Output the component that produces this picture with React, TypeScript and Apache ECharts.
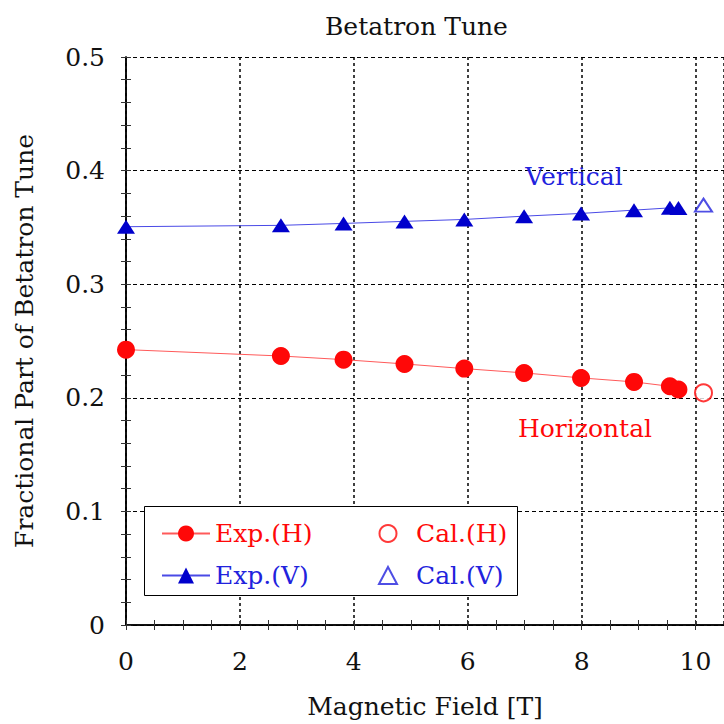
import React, { useEffect, useRef } from "react";
import * as echarts from "echarts";

const fieldExp = [0, 2.72, 3.82, 4.89, 5.94, 6.99, 7.99, 8.92, 9.55, 9.7];
const tuneExpH = [0.2424, 0.2368, 0.2336, 0.2298, 0.2257, 0.2219, 0.2175, 0.214, 0.2101, 0.2073];
const tuneExpV = [0.3506, 0.3518, 0.3535, 0.3553, 0.357, 0.3599, 0.3623, 0.3652, 0.3672, 0.367];
const fieldCal = [10.14];
const tuneCalH = [0.2044];
const tuneCalV = [0.3696];
const xTicks = [0, 2, 4, 6, 8, 10];
const yTicks = [0, 0.1, 0.2, 0.3, 0.4, 0.5];

const FONT = "'DejaVu Serif', 'Liberation Serif', serif";
const FS = 25;
const RED = "#ff0808";
const BLUE = "#0000cc";
const TBLUE = "#2222dd";

const zip = (xs: number[], ys: number[]) => xs.map((x, i) => [x, ys[i]]);

export default function App() {
  const ref = useRef<HTMLDivElement>(null);
  useEffect(() => {
    if (!ref.current) return;
    const chart = echarts.init(ref.current, undefined, { renderer: "svg" });
    const gridDotted = { show: true, lineStyle: { color: "#000", type: [3, 3] as any, width: 1.5 } };
    const tickAxisCommon = {
      axisLabel: { show: false },
      axisLine: { show: false },
      splitLine: { show: false },
      axisTick: { show: true, inside: true, length: 5, lineStyle: { color: "#333", width: 1 } },
    };
    chart.setOption({
      animation: false,
      backgroundColor: "#fff",
      title: {
        text: "Betatron Tune",
        left: 320,
        top: 9,
        textStyle: { fontFamily: FONT, fontSize: FS, fontWeight: "normal", color: "#111" },
      },
      grid: { left: 126, top: 57, width: 599, height: 571, containLabel: false },
      xAxis: [
        {
          type: "value",
          position: "bottom",
          min: 0,
          max: 10.5,
          interval: 2,
          name: "Magnetic Field [T]",
          nameLocation: "middle",
          nameGap: 69,
          nameTextStyle: { fontFamily: FONT, fontSize: FS, color: "#111" },
          axisLine: { show: true, lineStyle: { color: "#000", width: 1.5 } },
          axisTick: { show: false },
          axisLabel: {
            margin: 24,
            fontFamily: FONT,
            fontSize: FS,
            color: "#111",
            showMaxLabel: false,
            formatter: (v: number) => (xTicks.includes(v) ? String(v) : ""),
          },
          splitLine: gridDotted,
        },
        { type: "value", position: "bottom", min: 0, max: 10.5, interval: 0.5, ...tickAxisCommon },
        {
          type: "value",
          position: "top",
          min: 0,
          max: 10.5,
          interval: 0.5,
          ...tickAxisCommon,
          axisLine: { show: true, lineStyle: { color: "#000", width: 1.5 } },
        },
      ],
      yAxis: [
        {
          type: "value",
          position: "left",
          min: 0,
          max: 0.5,
          interval: 0.1,
          name: "Fractional Part of Betatron Tune",
          nameLocation: "middle",
          nameGap: 89,
          nameTextStyle: { fontFamily: FONT, fontSize: FS, color: "#111" },
          axisLine: { show: true, lineStyle: { color: "#000", width: 1.5 } },
          axisTick: { show: false },
          axisLabel: {
            margin: 21,
            fontFamily: FONT,
            fontSize: FS,
            color: "#111",
            formatter: (v: number) => {
              const t = yTicks.find((y) => Math.abs(y - v) < 1e-9);
              return t === undefined ? "" : t === 0 ? "0" : t.toFixed(1);
            },
          },
          splitLine: { show: true, lineStyle: { color: "#000", type: [4, 3] as any, width: 1.2 } },
        },
        { type: "value", position: "left", min: 0, max: 0.5, interval: 0.02, ...tickAxisCommon },
        {
          type: "value",
          position: "right",
          min: 0,
          max: 0.5,
          interval: 0.02,
          ...tickAxisCommon,
          axisLine: { show: true, lineStyle: { color: "#000", width: 1.5 } },
        },
      ],
      legend: [
        {
          orient: "vertical",
          left: 156,
          top: 516,
          itemWidth: 48,
          itemHeight: 20,
          itemGap: 17,
          z: 10,
          textStyle: { fontFamily: FONT, fontSize: FS },
          data: [
            { name: "Exp.(H)", textStyle: { color: RED } },
            { name: "Exp.(V)", textStyle: { color: TBLUE } },
          ],
        },
        {
          orient: "vertical",
          left: 373,
          top: 516,
          itemWidth: 18,
          itemHeight: 17,
          itemGap: 17,
          z: 10,
          textStyle: { fontFamily: FONT, fontSize: FS, padding: [0, 0, 0, 14] },
          data: [
            { name: "Cal.(H)", textStyle: { color: RED } },
            { name: "Cal.(V)", textStyle: { color: TBLUE } },
          ],
        },
      ],
      graphic: [
        {
          type: "rect",
          z: 8,
          shape: { x: 144.5, y: 506.5, width: 373, height: 89 },
          style: { fill: "#fff", stroke: "#000", lineWidth: 1 },
        },
        {
          type: "text",
          z: 9,
          x: 574,
          y: 176,
          style: {
            text: "Vertical",
            fill: TBLUE,
            font: `${FS}px ${FONT}`,
            textAlign: "center",
            textVerticalAlign: "middle",
          },
        },
        {
          type: "text",
          z: 9,
          x: 585,
          y: 428,
          style: {
            text: "Horizontal",
            fill: RED,
            font: `${FS}px ${FONT}`,
            textAlign: "center",
            textVerticalAlign: "middle",
          },
        },
      ],
      series: [
        {
          name: "Exp.(H)",
          type: "line",
          xAxisIndex: 0,
          yAxisIndex: 0,
          data: zip(fieldExp, tuneExpH),
          symbol: "circle",
          symbolSize: 18,
          itemStyle: { color: RED },
          lineStyle: { color: "#ff5a5a", width: 1 },
          z: 3,
        },
        {
          name: "Cal.(H)",
          type: "scatter",
          xAxisIndex: 0,
          yAxisIndex: 0,
          data: zip(fieldCal, tuneCalH),
          symbol: "emptyCircle",
          symbolSize: 17,
          itemStyle: { color: RED, borderColor: RED, borderWidth: 1 },
          z: 3,
        },
        {
          name: "Exp.(V)",
          type: "line",
          xAxisIndex: 0,
          yAxisIndex: 0,
          data: zip(fieldExp, tuneExpV),
          symbol: "triangle",
          symbolSize: [18, 14],
          itemStyle: { color: BLUE },
          lineStyle: { color: "#4a4ae6", width: 1 },
          z: 3,
        },
        {
          name: "Cal.(V)",
          type: "scatter",
          xAxisIndex: 0,
          yAxisIndex: 0,
          data: zip(fieldCal, tuneCalV),
          symbol: "emptyTriangle",
          symbolSize: [17, 13],
          itemStyle: { color: TBLUE, borderColor: TBLUE, borderWidth: 1 },
          z: 3,
        },
      ],
    });
    return () => chart.dispose();
  }, []);
  return (
    <div
      ref={ref}
      style={{ position: "fixed", left: 0, top: 0, width: 724, height: 724, background: "#fff" }}
    />
  );
}
